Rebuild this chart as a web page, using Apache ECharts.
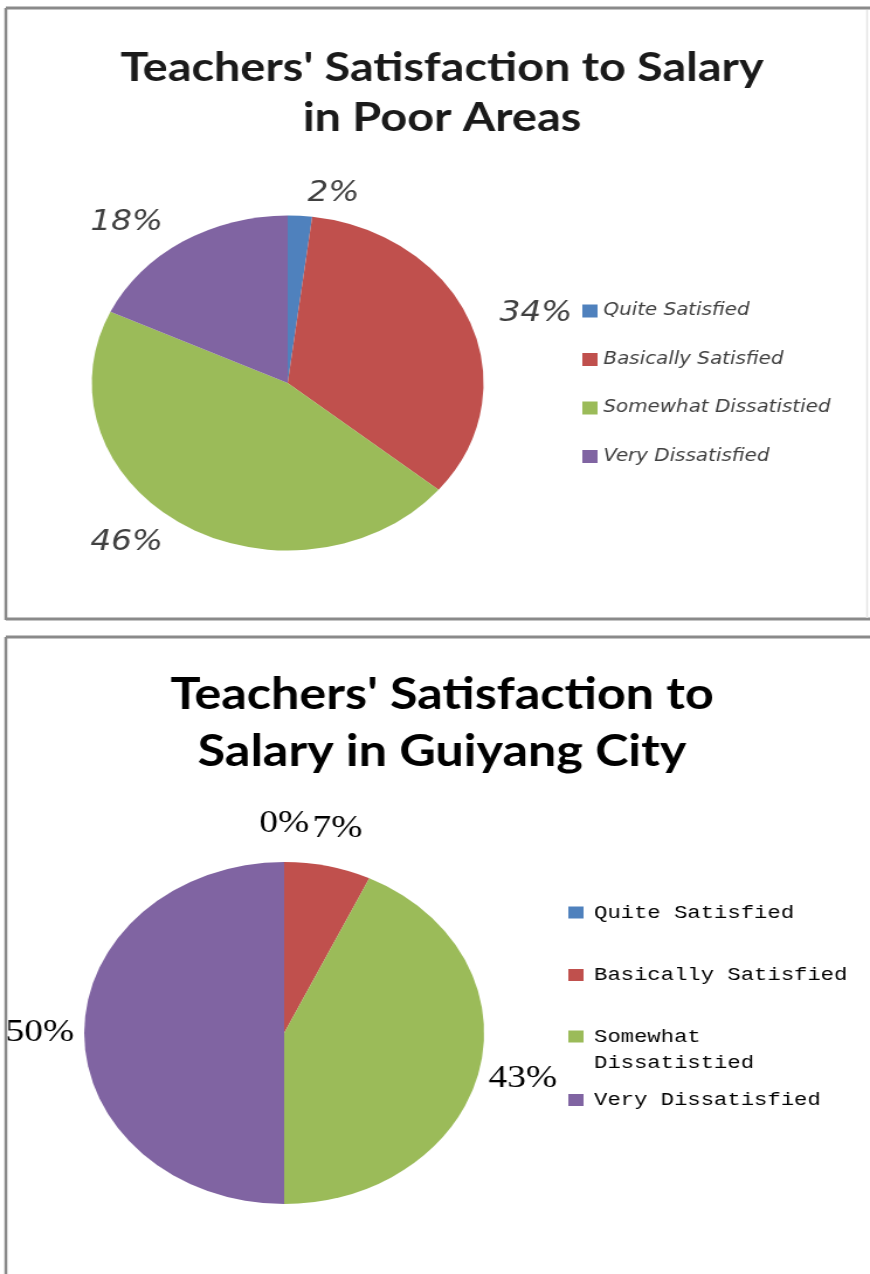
<!DOCTYPE html>
<html><head><meta charset="utf-8">
<script src="https://cdn.jsdelivr.net/npm/echarts@6/dist/echarts.min.js"></script>
<style>
html,body{margin:0;padding:0;background:#fff;overflow:hidden;}
#wrap{width:870px;height:1274px;overflow:hidden;position:relative;background:#fff;}
#chart{width:744px;height:1274px;transform:scaleX(1.16935);transform-origin:0 0;}
</style></head><body>
<div id="wrap"><div id="chart"></div></div>
<script>
// ---- data ----
const categories = ['Quite Satisfied', 'Basically Satisfied', 'Somewhat Dissatistied', 'Very Dissatisfied'];
const poorAreasValues = [2, 34, 46, 18];
const guiyangValues = [0, 7, 43, 50];
const sliceColors = ['#4F81BD', '#C0504D', '#9BBB59', '#8064A2'];
const poorAreasTitle = "Teachers' Satisfaction to Salary\nin Poor Areas";
const guiyangTitle = "Teachers' Satisfaction to\nSalary in Guiyang City";

const toData = vals => categories.map((c, i) => ({ name: c, value: vals[i] }));

const chart = echarts.init(document.getElementById('chart'), null, { renderer: 'canvas' });

const bottomLineHeights = [80, 45, 26, 49];

const option = {
  animation: false,
  backgroundColor: '#ffffff',
  color: sliceColors,
  title: [
    {
      text: poorAreasTitle, left: 373, top: 38, textAlign: 'center',
      textStyle: { fontFamily: 'Lato', fontWeight: 'bold', fontSize: 40, lineHeight: 50, color: '#1a1a1a' }
    },
    {
      text: guiyangTitle, left: 373, top: 662, textAlign: 'center',
      textStyle: { fontFamily: 'Lato', fontWeight: 'bold', fontSize: 43, lineHeight: 57, color: '#000000' }
    }
  ],
  legend: [
    {
      orient: 'vertical', left: 498, top: 301, padding: 0, itemGap: 28.5,
      itemWidth: 13, itemHeight: 13, icon: 'rect', selectedMode: false,
      data: categories,
      textStyle: { fontFamily: 'DejaVu Sans', fontStyle: 'italic', fontSize: 17, lineHeight: 20, color: '#404040' }
    },
    {
      orient: 'vertical', left: 486, top: 872.5, padding: 0, itemGap: 0,
      itemWidth: 13, itemHeight: 12, icon: 'rect', selectedMode: false,
      data: categories.map((c, i) => ({
        name: c,
        textStyle: { lineHeight: bottomLineHeights[i] }
      })),
      formatter: n => n.indexOf(' Dissatistied') >= 0 ? '\n' + n.replace(' Dissatistied', '\nDissatistied') : n,
      textStyle: { fontFamily: 'Liberation Mono', fontSize: 19, color: '#000000', padding: [0, 0, 0, 4] }
    }
  ],
  graphic: [
    { type: 'line', shape: { x1: 5, y1: 8, x2: 744, y2: 8 }, style: { stroke: '#8a8a8a', lineWidth: 3 }, silent: true },
    { type: 'line', shape: { x1: 5, y1: 8, x2: 5, y2: 620 }, style: { stroke: '#8a8a8a', lineWidth: 2.5 }, silent: true },
    { type: 'line', shape: { x1: 5, y1: 619, x2: 744, y2: 619 }, style: { stroke: '#8a8a8a', lineWidth: 3 }, silent: true },
    { type: 'line', shape: { x1: 741.5, y1: 10, x2: 741.5, y2: 618 }, style: { stroke: '#e6e6e6', lineWidth: 1.5 }, silent: true },
    { type: 'line', shape: { x1: 5, y1: 637, x2: 744, y2: 637 }, style: { stroke: '#8a8a8a', lineWidth: 3 }, silent: true },
    { type: 'line', shape: { x1: 5, y1: 637, x2: 5, y2: 1280 }, style: { stroke: '#8a8a8a', lineWidth: 2.5 }, silent: true }
  ],
  series: [
    {
      name: 'Poor Areas', type: 'pie', center: [246, 383], radius: 167.5,
      startAngle: 90, clockwise: true, avoidLabelOverlap: false,
      data: toData(poorAreasValues),
      label: {
        show: true, position: 'outside', formatter: '{d}%',
        fontFamily: 'DejaVu Sans', fontStyle: 'italic', fontSize: 28, color: '#404040',
        distanceToLabelLine: 5
      },
      labelLine: { show: false, length: 22, length2: 0 },
      emphasis: { disabled: true }
    },
    {
      name: 'Guiyang City', type: 'pie', center: [243, 1033], radius: 171,
      startAngle: 90, clockwise: true, avoidLabelOverlap: false,
      data: toData(guiyangValues),
      label: { show: false },
      labelLine: { show: false },
      emphasis: { disabled: true }
    },
    {
      name: 'Guiyang City labels', type: 'pie', center: [243, 1033], radius: [171, 241],
      startAngle: 90, clockwise: true, avoidLabelOverlap: false, silent: true,
      legendHoverLink: false,
      data: toData(guiyangValues),
      itemStyle: { color: 'rgba(0,0,0,0)' },
      label: {
        show: true, position: 'inside', formatter: '{d}%',
        fontFamily: 'Liberation Serif', fontSize: 32, color: '#000000'
      },
      labelLine: { show: false },
      emphasis: { disabled: true }
    }
  ]
};
chart.setOption(option);
</script>
</body></html>
